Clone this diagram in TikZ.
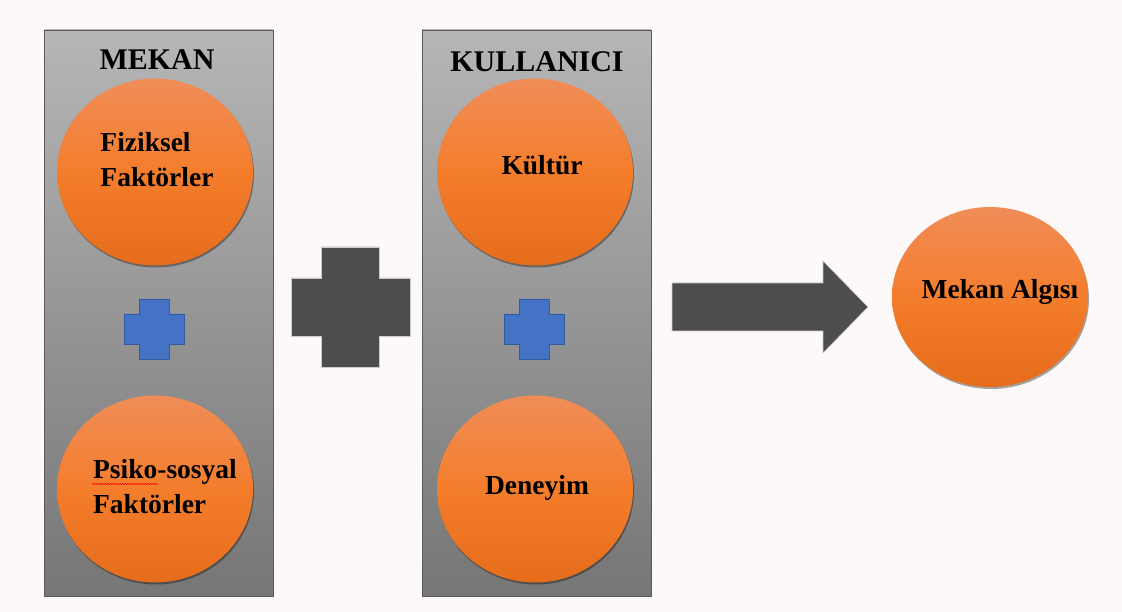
\documentclass[tikz,border=0pt]{standalone}
\usepackage{fontspec}
\setmainfont{Liberation Serif}
\usetikzlibrary{shapes.geometric,shadows,decorations.pathmorphing}

\definecolor{bgpaper}{RGB}{253,249,248}
\definecolor{panelhi}{RGB}{182,182,182}
\definecolor{panello}{RGB}{118,118,118}
\definecolor{panelline}{RGB}{90,90,90}
\definecolor{orangehi}{RGB}{240,141,88}
\definecolor{orangemid}{RGB}{244,125,44}
\definecolor{orangelo}{RGB}{229,108,26}
\definecolor{crossblue}{RGB}{68,114,196}
\definecolor{crossblueline}{RGB}{52,90,160}
\definecolor{crossdark}{RGB}{77,77,77}

\begin{document}
\begin{tikzpicture}[
    x=1pt, y=-1pt,
    every node/.style={font=\bfseries},
    panel/.style={draw=panelline, line width=0.8pt, top color=panelhi, bottom color=panello, minimum width=229pt, minimum height=566pt, inner sep=0pt},
    heading/.style={font=\fontsize{30}{36}\selectfont\bfseries, inner sep=0pt},
    bubble/.style={ellipse, minimum width=196pt, minimum height=187pt, inner sep=0pt, top color=orangehi, bottom color=orangelo, middle color=orangemid, drop shadow={shadow xshift=1pt, shadow yshift=-2pt, opacity=0.35, fill=black}},
    bubtext/.style={align=left, font=\fontsize{27.5}{35}\selectfont\bfseries, inner sep=0pt},
    bluecross/.style={fill=crossblue, draw=crossblueline, line width=0.6pt},
    darkcross/.style={fill=crossdark, draw=black!20, line width=0.8pt}
]
\useasboundingbox[fill=bgpaper] (0,0) rectangle (1122,612);

% two columns
\node[panel] (mekan) at (158.5,313) {};
\node[panel] (kullanici) at (536.5,313) {};
\node[heading] (mekan-t) at (157,60) {MEKAN};
\node[heading] (kullanici-t) at (537,62) {KULLANICI};

% circles
\node[bubble] (fiziksel) at (155,172) {};
\node[bubtext] (fiziksel-t) at (157,160) {Fiziksel\\Faktörler};
\node[bubble] (psiko) at (155,489) {};
\node[bubtext] (psiko-t) at (165,487) {Psiko-sosyal\\Faktörler};
\draw[red, line width=0.5pt, decorate, decoration={snake, segment length=2.5pt, amplitude=0.7pt}] (92,484) -- (158,484);
\node[bubble] (kultur) at (535,172) {};
\node[bubtext] (kultur-t) at (542,165) {Kültür};
\node[bubble] (deneyim) at (535,489) {};
\node[bubtext] (deneyim-t) at (537,488) {Deneyim};
\node[bubble, minimum height=180pt] (algi) at (990,297) {};
\node[bubtext] (algi-t) at (1000,292) {Mekan Algısı};

% plus signs
\draw[bluecross] (139,299) -| (169,314) -| (184,344) -| (169,359) -| (139,344) -| (124,314) -| cycle;
\draw[bluecross] (519,299) -| (549,314) -| (564,344) -| (549,359) -| (519,344) -| (504,314) -| cycle;
\draw[darkcross] (321,247) -| (379,278) -| (410,336) -| (379,367) -| (321,336) -| (291,278) -| cycle;

% result arrow
\draw[darkcross, line width=0.6pt] (672,283) -- (823,283) -- (823,261) -- (868,307) -- (823,353) -- (823,331) -- (672,331) -- cycle;
\end{tikzpicture}
\end{document}
